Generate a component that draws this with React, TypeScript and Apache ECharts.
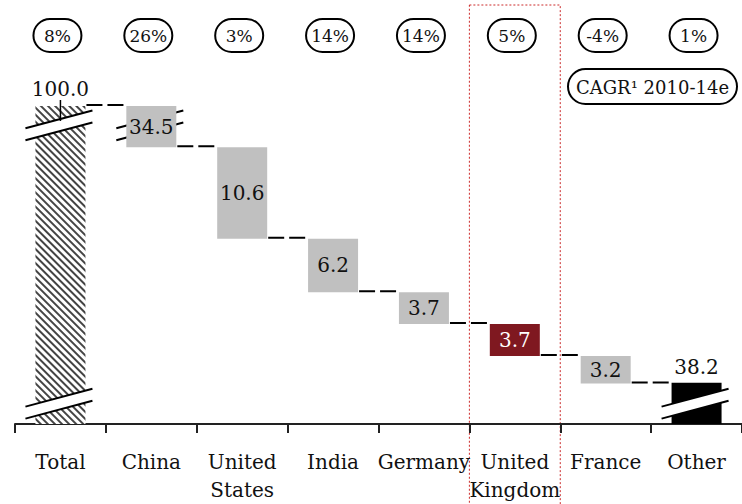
import React, { useEffect, useRef } from 'react';
import * as echarts from 'echarts';

// ---- data ----
const categories = ['Total', 'China', 'United\nStates', 'India', 'Germany', 'United\nKingdom', 'France', 'Other'];
const values = [100.0, 34.5, 10.6, 6.2, 3.7, 3.7, 3.2, 38.2];
const growth = ['8%', '26%', '3%', '14%', '14%', '5%', '-4%', '1%'];
const cagrLabel = 'CAGR\u00B9 2010-14e';
const highlightIndex = 5;
const axisBreaks = [
  { start: 2.4, end: 35.8, gap: 0 },
  { start: 68.1, end: 97.8, gap: 0 },
];

const FONT = 'DejaVu Serif';
const GRAY = '#c0c0c0';
const RED = '#7f1820';

// derived waterfall layout
const n = values.length;
const bases: number[] = [];
{
  let running = values[0];
  for (let i = 0; i < n; i++) {
    if (i === 0 || i === n - 1) {
      bases.push(0);
    } else {
      running = Math.round((running - values[i]) * 10) / 10;
      bases.push(running);
    }
  }
}
const tops = values.map((v, i) => Math.round((bases[i] + v) * 10) / 10);
const levels = bases.map((b, i) => (i === 0 ? tops[0] : b)).slice(0, n - 1);

const breakMarksOver: number[][] = [];
const breakMarksUnder: number[][] = [];
for (let i = 0; i < n; i++) {
  for (const b of axisBreaks) {
    if (bases[i] < b.start && tops[i] > b.end) {
      const mid = (b.start + b.end) / 2;
      if (bases[i] === 0) breakMarksOver.push([i, mid]);
      else breakMarksUnder.push([i, mid]);
    }
  }
}

const barColor = (i: number) => {
  if (i === 0) return '#ffffff';
  if (i === n - 1) return '#000000';
  if (i === highlightIndex) return RED;
  return GRAY;
};

const makeBreakRenderer = (over: boolean) => (params: any, api: any) => {
  const i = api.value(0);
  const v = api.value(1);
  const p = api.coord([i, v]);
  const cx = p[0];
  const cy = p[1];
  const xl = cx - 35;
  const xr = cx + 32;
  const s = -0.265;
  const h = 6;
  const yAt = (x: number, off: number) => cy + off + s * (x - cx);
  const children: any[] = [];
  if (over) {
    children.push({
      type: 'polygon',
      shape: { points: [[xl, yAt(xl, -h)], [xr, yAt(xr, -h)], [xr, yAt(xr, h)], [xl, yAt(xl, h)]] },
      style: { fill: '#ffffff' },
    });
  }
  for (const off of [-h, h]) {
    children.push({
      type: 'line',
      shape: { x1: xl, y1: yAt(xl, off), x2: xr, y2: yAt(xr, off) },
      style: { stroke: '#000', lineWidth: 2 },
    });
  }
  if (over && i === 0 && v > 50) {
    const topY = api.coord([i, tops[0]])[1];
    children.push({
      type: 'line',
      shape: { x1: cx, y1: topY - 6, x2: cx, y2: cy - h + 2 },
      style: { stroke: '#000', lineWidth: 1.5 },
    });
  }
  return { type: 'group', children };
};

export default function App() {
  const ref = useRef<HTMLDivElement>(null);
  useEffect(() => {
    if (!ref.current) return;
    const chart = echarts.init(ref.current, undefined, { renderer: 'svg' });
    const option: any = {
      animation: false,
      backgroundColor: '#ffffff',
      textStyle: { fontFamily: FONT },
      grid: { left: 15, right: 0, top: 106, bottom: 80, containLabel: false, outerBoundsMode: 'none' },
      xAxis: {
        type: 'category',
        data: categories,
        boundaryGap: true,
        axisLine: { lineStyle: { color: '#222', width: 2 } },
        axisTick: { show: true, length: 9, lineStyle: { color: '#222', width: 2 } },
        axisLabel: { fontFamily: FONT, fontSize: 20, lineHeight: 28, margin: 24, color: '#111', interval: 0 },
      },
      yAxis: {
        type: 'value',
        min: 0,
        max: 100,
        show: false,
        splitLine: { show: false },
        breaks: axisBreaks,
        breakArea: { show: false, itemStyle: { opacity: 0, borderWidth: 0 } },
      },
      graphic: [
        {
          type: 'group',
          left: 567,
          top: 68,
          children: [
            { type: 'rect', shape: { x: 0, y: 0, width: 169, height: 35, r: 17.5 }, style: { fill: '#fff', stroke: '#000', lineWidth: 2 } },
            { type: 'text', x: 84.5, y: 18, style: { text: cagrLabel, font: `18px "${FONT}"`, fill: '#111', align: 'center', verticalAlign: 'middle' } },
          ],
        },
      ],
      series: [
        {
          type: 'custom',
          name: 'highlight',
          z: 0,
          silent: true,
          data: [[highlightIndex, 0]],
          encode: { x: 0, y: 1 },
          renderItem: (params: any, api: any) => {
            const p = api.coord([api.value(0), 0]);
            const bw = api.size([1, 0])[0];
            return {
              type: 'rect',
              shape: { x: p[0] - bw / 2, y: 5, width: bw, height: 520 },
              style: { fill: 'none', stroke: '#cc2a2a', lineWidth: 1, lineDash: [2, 2] },
            };
          },
        },
        {
          type: 'custom',
          name: 'growth',
          z: 5,
          silent: true,
          data: growth.map((g, i) => [i, 100]),
          encode: { x: 0, y: 1 },
          renderItem: (params: any, api: any) => {
            const p = api.coord([api.value(0), 100]);
            const cx = p[0] - 3;
            return {
              type: 'group',
              children: [
                { type: 'rect', shape: { x: cx - 24, y: 19, width: 48, height: 33, r: 16.5 }, style: { fill: '#fff', stroke: '#000', lineWidth: 2 } },
                { type: 'text', x: cx, y: 36, style: { text: growth[params.dataIndex], font: `17px "${FONT}"`, fill: '#111', align: 'center', verticalAlign: 'middle' } },
              ],
            };
          },
        },
        {
          type: 'custom',
          name: 'connectors',
          z: 1,
          silent: true,
          data: levels.map((lv, i) => [i, lv]),
          encode: { x: 0, y: 1 },
          renderItem: (params: any, api: any) => {
            const p = api.coord([api.value(0), api.value(1)]);
            const bw = api.size([1, 0])[0];
            return {
              type: 'line',
              shape: { x1: p[0] + 26, y1: p[1] - 1, x2: p[0] + bw - 26, y2: p[1] - 1 },
              style: { stroke: '#000', lineWidth: 2, lineDash: [16, 5] },
            };
          },
        },
        {
          type: 'custom',
          name: 'breaksUnder',
          z: 1,
          silent: true,
          data: breakMarksUnder,
          encode: { x: 0, y: 1 },
          renderItem: makeBreakRenderer(false),
        },
        {
          type: 'bar',
          name: 'base',
          stack: 'w',
          barWidth: 50,
          silent: true,
          itemStyle: { color: 'rgba(0,0,0,0)' },
          data: bases,
          z: 2,
        },
        {
          type: 'bar',
          name: 'value',
          stack: 'w',
          barWidth: 50,
          z: 2,
          label: {
            show: true,
            position: 'inside',
            fontFamily: FONT,
            fontSize: 20,
            color: '#111',
            formatter: (p: any) => Number(p.value).toFixed(1),
          },
          data: values.map((v, i) => {
            const item: any = { value: v, itemStyle: { color: barColor(i) } };
            if (i === 0) {
              item.itemStyle.decal = {
                symbol: 'rect',
                symbolSize: 1,
                color: '#444',
                backgroundColor: '#ffffff',
                dashArrayX: [1, 0],
                dashArrayY: [2, 3],
                rotation: Math.PI / 4,
              };
              item.label = { position: 'top', distance: 7 };
            } else if (i === n - 1) {
              item.label = { position: 'top', distance: 6 };
            } else if (i === highlightIndex) {
              item.label = { color: '#ffffff' };
            }
            return item;
          }),
        },
        {
          type: 'custom',
          name: 'breaksOver',
          z: 4,
          silent: true,
          data: breakMarksOver,
          encode: { x: 0, y: 1 },
          renderItem: makeBreakRenderer(true),
        },
      ],
    };
    chart.setOption(option);
    return () => chart.dispose();
  }, []);
  return <div ref={ref} style={{ position: 'fixed', left: 0, top: 0, width: 742, height: 504 }} />;
}
